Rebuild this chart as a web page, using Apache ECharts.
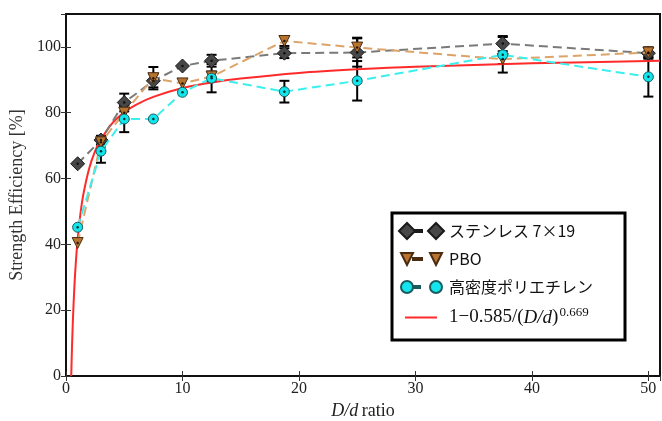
<!DOCTYPE html>
<html>
<head>
    <meta charset="utf-8">
    <title>Strength Efficiency</title>
    <script src="https://cdn.jsdelivr.net/npm/echarts@6/dist/echarts.min.js"></script>
    <style>
        html, body { margin: 0; padding: 0; background: #fff; }
        #chart { width: 662px; height: 421px; }
    </style>
</head>
<body>
<div id="chart"></div>
<script type="text/javascript">
    // 読み取った値
    var ratios = [1, 3, 5, 7.5, 10, 12.5, 18.75, 25, 37.5, 50];
    var stainlessY = [64.5, 71.7, 83.1, 89.7, 94.2, 95.8, 98.1, 98.3, 101.0, 98.1];
    var stainlessErr = [0, 1.3, 2.7, 2.0, 0, 1.8, 1.5, 4.3, 2.3, 1.7];
    var pboY = [40.4, 71.0, 80.0, 90.5, 88.9, 91.0, 101.8, 99.8, 96.3, 98.3];
    var pboErr = [0, 1.3, 2.0, 3.4, 0, 1.5, 1.5, 3.0, 1.5, 1.5];
    var hdpeY = [45.2, 68.3, 78.1, 78.1, 86.2, 90.5, 86.4, 89.7, 97.6, 90.9];
    var hdpeErr = [0, 3.5, 4.0, 0, 0, 4.3, 3.3, 6.0, 5.4, 6.0];
    // フィット曲線
    var fitX = [0.45, 0.5, 0.55, 0.6, 0.7, 0.75, 0.85, 1, 1.25, 1.5, 2, 2.5, 3, 4, 5, 6, 7.5, 10, 12.5, 15, 20, 25, 30, 40, 51];
    var fitY = [0, 7.0, 12.7, 17.7, 25.7, 29.1, 34.8, 41.5, 49.6, 55.4, 63.2, 68.3, 71.9, 76.9, 80.1, 82.4, 84.8, 87.5, 89.2, 90.4, 92.1, 93.2, 94.0, 95.0, 95.8];
    var xTicks = [0, 10, 20, 30, 40, 50];
    var yTicks = [0, 20, 40, 60, 80, 100];

    var names = ['ステンレス 7×19', 'PBO', '高密度ポリエチレン', 'fit'];

    function pairs(xs, ys) {
        return xs.map(function (x, i) { return [x, ys[i]]; });
    }
    function errRows(ys, errs) {
        var rows = [];
        ratios.forEach(function (x, i) {
            if (errs[i] > 0) rows.push([x, ys[i] - errs[i], ys[i] + errs[i]]);
        });
        return rows;
    }

    var errData = errRows(stainlessY, stainlessErr)
        .concat(errRows(pboY, pboErr))
        .concat(errRows(hdpeY, hdpeErr));
    var dotData = pairs(ratios, stainlessY).concat(pairs(ratios, pboY)).concat(pairs(ratios, hdpeY));

    var serif = 'Liberation Serif';
    var jp = 'Noto Sans CJK JP';

    var myChart = echarts.init(document.getElementById('chart'));

    var axisCommon = {
        axisLine: { show: true, lineStyle: { color: '#111', width: 2 } },
        axisTick: { show: true, inside: true, length: 5, lineStyle: { color: '#333', width: 1 } },
        splitLine: { show: false }
    };

    myChart.setOption({
        animation: false,
        backgroundColor: '#fff',
        grid: {
            left: 66, right: 2, top: 14, bottom: 45,
            outerBoundsMode: 'none',
            containLabel: false,
            show: true, borderColor: '#111', borderWidth: 2
        },
        xAxis: [
            Object.assign({
                type: 'value', min: 0, max: 51, interval: 10, position: 'bottom',
                name: '{i|D/d} {r|ratio}', nameLocation: 'middle', nameGap: 21,
                nameTextStyle: {
                    rich: {
                        i: { fontFamily: serif, fontStyle: 'italic', fontSize: 18, color: '#222' },
                        r: { fontFamily: serif, fontSize: 18, color: '#222' }
                    }
                },
                axisLabel: {
                    fontFamily: serif, fontSize: 16, color: '#222', margin: 5, showMaxLabel: false,
                    formatter: function (v) { return xTicks.indexOf(v) >= 0 ? String(v) : ''; }
                }
            }, axisCommon),
            Object.assign({
                type: 'value', min: 0, max: 51, interval: 10, position: 'top',
                axisLabel: { show: false }
            }, axisCommon)
        ],
        yAxis: [
            Object.assign({
                type: 'value', min: 0, max: 110, interval: 20, position: 'left',
                name: 'Strength Efficiency [%]', nameLocation: 'middle', nameGap: 37,
                nameTextStyle: { fontFamily: serif, fontSize: 18, color: '#333' },
                axisLabel: {
                    fontFamily: serif, fontSize: 16, color: '#222', margin: 5, showMaxLabel: false,
                    formatter: function (v) { return yTicks.indexOf(v) >= 0 ? String(v) : ''; }
                }
            }, axisCommon),
            Object.assign({
                type: 'value', min: 0, max: 110, interval: 20, position: 'right',
                axisLabel: { show: false }
            }, axisCommon)
        ],
        legend: {
            orient: 'vertical',
            left: 392, top: 213,
            itemWidth: 45, itemHeight: 16,
            itemGap: 10,
            padding: [9, 32, 13, 6],
            borderColor: '#000', borderWidth: 3,
            backgroundColor: '#fff',
            data: [
                { name: names[0], icon: 'path://M0 8 L8 0 L16 8 L8 16 Z M16 7 L23 7 L23 9 L16 9 Z M29 8 L37 0 L45 8 L37 16 Z' },
                { name: names[1], icon: 'path://M0 0 M2 2 L14 2 L8 14 Z M14 7 L23 7 L23 9 L14 9 Z M31 2 L43 2 L37 14 Z M45 16' },
                { name: names[2], icon: 'path://M0 0 M2 8 A6 6 0 1 1 14 8 A6 6 0 1 1 2 8 Z M14 7 L21 7 L21 9 L14 9 Z M31 8 A6 6 0 1 1 43 8 A6 6 0 1 1 31 8 Z M45 16' },
                { name: names[3], icon: 'path://M0 0 M6 7 L38 7 L38 9 L6 9 Z M45 16' }
            ],
            formatter: function (name) {
                if (name === 'fit') return '{f|1−0.585/(}{i|D/d}{f|)}{s|0.669}';
                return name;
            },
            textStyle: {
                fontFamily: jp, fontSize: 16, color: '#111',
                rich: {
                    f: { fontFamily: serif, fontSize: 19, color: '#111' },
                    i: { fontFamily: serif, fontStyle: 'italic', fontSize: 19, color: '#111' },
                    s: { fontFamily: serif, fontSize: 13, color: '#111', verticalAlign: 'top', padding: [0, 0, 10, 1] }
                }
            }
        },
        series: [
            {
                // エラーバー
                type: 'custom',
                silent: true,
                data: errData,
                z: 2,
                renderItem: function (params, api) {
                    var x = api.value(0);
                    var lo = api.coord([x, api.value(1)]);
                    var hi = api.coord([x, api.value(2)]);
                    var cap = 5;
                    var style = { stroke: '#000', lineWidth: 2 };
                    return {
                        type: 'group',
                        children: [
                            { type: 'line', shape: { x1: lo[0], y1: lo[1], x2: hi[0], y2: hi[1] }, style: style },
                            { type: 'line', shape: { x1: lo[0] - cap, y1: lo[1], x2: lo[0] + cap, y2: lo[1] }, style: style },
                            { type: 'line', shape: { x1: hi[0] - cap, y1: hi[1], x2: hi[0] + cap, y2: hi[1] }, style: style }
                        ]
                    };
                }
            },
            {
                name: names[3],
                type: 'line',
                data: pairs(fitX, fitY),
                showSymbol: false,
                symbol: 'none',
                smooth: 0.3,
                clip: true,
                z: 3,
                itemStyle: { color: '#ff2a2a' },
                lineStyle: { color: '#ff2a2a', width: 2 }
            },
            {
                name: names[0],
                type: 'line',
                data: pairs(ratios, stainlessY),
                symbol: 'diamond',
                symbolSize: 14,
                z: 4,
                itemStyle: { color: '#474747', borderColor: '#1a1a1a', borderWidth: 1 },
                lineStyle: { color: '#7a7a7a', width: 2, type: [9, 5] }
            },
            {
                name: names[1],
                type: 'line',
                data: pairs(ratios, pboY),
                symbol: 'triangle',
                symbolRotate: 180,
                symbolSize: 11,
                z: 5,
                itemStyle: { color: '#b8732f', borderColor: '#4a2c10', borderWidth: 1 },
                lineStyle: { color: '#dda469', width: 2, type: [9, 5] }
            },
            {
                name: names[2],
                type: 'line',
                data: pairs(ratios, hdpeY),
                symbol: 'circle',
                symbolSize: 10,
                z: 6,
                itemStyle: { color: '#12e6ec', borderColor: '#1b5b5e', borderWidth: 1 },
                lineStyle: { color: '#3cefef', width: 2, type: [9, 5] }
            },
            {
                // マーカー中心の点
                type: 'scatter',
                data: dotData,
                symbol: 'circle',
                symbolSize: 2.5,
                silent: true,
                z: 7,
                itemStyle: { color: '#000' }
            }
        ]
    });
</script>
</body>
</html>
